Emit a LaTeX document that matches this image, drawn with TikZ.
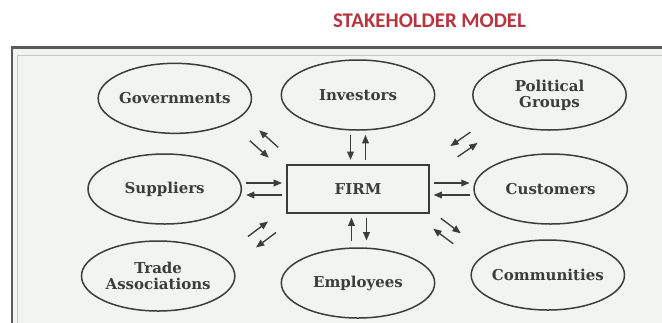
\documentclass[tikz,border=0pt]{standalone}
\usepackage{fontspec}
\setmainfont{DejaVu Serif}
\newfontfamily\titlefont{Carlito}
\usepackage{xcolor}
\definecolor{modelInk}{HTML}{3C3C3C}
\definecolor{modelTitle}{HTML}{B8353F}
\definecolor{modelPaper}{HTML}{F1F5F2}
\definecolor{modelFrame}{HTML}{5A5A5A}
\definecolor{modelInner}{HTML}{C4C8C5}
\usetikzlibrary{shapes.geometric,arrows.meta,positioning,calc}
\tikzset{
    stake/.style={
        draw=modelInk,
        ellipse,
        line width=0.45mm,
        minimum width=4.6cm,
        minimum height=2.1cm,
        inner xsep=-4pt,
        inner ysep=0pt,
        align=center,
        text=modelInk,
        font=\fontsize{12.8}{13.5}\selectfont\bfseries
    },
    firmbox/.style={
        draw=modelInk,
        rectangle,
        line width=0.55mm,
        minimum width=4.26cm,
        minimum height=1.44cm,
        text=modelInk,
        font=\fontsize{12.8}{13.5}\selectfont\bfseries
    },
    flow/.style={
        -{Triangle[length=2.5mm,width=2mm]},
        line width=0.4mm,
        color=modelInk
    },
    heading/.style={
        text=modelTitle,
        font=\titlefont\bfseries\fontsize{17.8}{20}\selectfont
    }
}
% two opposite arrows: centre, half length vector, side offset
\newcommand{\flowpair}[3]{%
    \draw[flow] ($(#1)-(#2)+(#3)$) -- ($(#1)+(#2)+(#3)$);
    \draw[flow] ($(#1)+(#2)-(#3)$) -- ($(#1)-(#2)-(#3)$);
}

\begin{document}
\begin{tikzpicture}[x=0.03cm,y=-0.03cm]
    \useasboundingbox (0,0) rectangle (662,322);
    \fill[white] (0,0) rectangle (662,322);

    % Frame
    \draw[modelFrame, line width=0.8mm, fill=modelPaper] (12,47.5) rectangle (690,350);
    \draw[modelInner, line width=0.3mm] (17.5,55) rectangle (684,344);

    % Title
    \node[heading] (title) at (429.5,21) {STAKEHOLDER MODEL};

    % Firm
    \node[firmbox] (firm) at (358,189) {FIRM};

    % Stakeholders
    \node[stake, above=1cm of firm] (inv) {Investors};
    \node[stake, below=1cm of firm] (emp) {Employees};
    \node[stake, left=1.32cm of firm] (sup) {Suppliers};
    \node[stake, right=1.3cm of firm] (cus) {Customers};
    \node[stake, left=0.85cm of inv, yshift=-0.1cm] (gov) {Governments};
    \node[stake, right=1.1cm of inv] (pol) {Political\\Groups};
    \node[stake, left=1.35cm of emp, yshift=0.21cm] (trade) {Trade\\Associations};
    \node[stake, right=1.05cm of emp, yshift=0.24cm] (comm) {Communities};

    % Arrows
    \coordinate (f-inv) at ($(inv.south)!0.5!(firm.north)$);
    \coordinate (f-emp) at (359,229);
    \coordinate (f-sup) at ($(sup.east)!0.5!(firm.west)$);
    \coordinate (f-cus) at ($(cus.west)!0.5!(firm.east)$);
    \coordinate (f-gov) at (264,144);
    \coordinate (f-pol) at (464,144.5);
    \coordinate (f-trade) at (262,234.5);
    \coordinate (f-comm) at (447,231);
    \flowpair{f-inv}{0,12.5}{-7.5,0}
    \flowpair{f-emp}{0,-11.5}{-7.5,0}
    \flowpair{f-sup}{18,0}{0,-6}
    \flowpair{f-cus}{18,0}{0,-6}
    \flowpair{f-gov}{9.5,8.5}{-4.7,5.2}
    \flowpair{f-pol}{-10,7}{-3.6,-5.4}
    \flowpair{f-trade}{10,-7.5}{-4,-5.5}
    \flowpair{f-comm}{-10,-7.5}{-3.8,5.2}
\end{tikzpicture}
\end{document}
